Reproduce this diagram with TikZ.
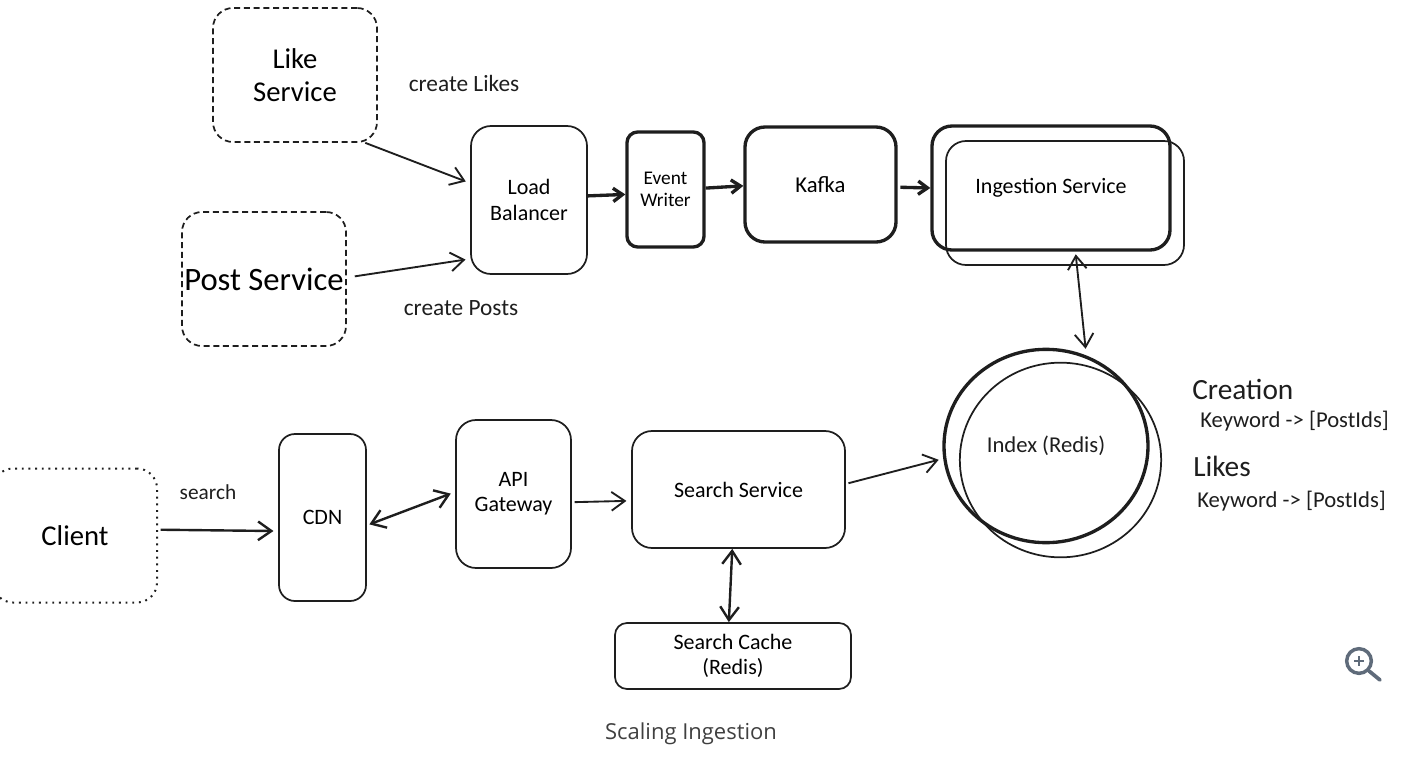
\documentclass[tikz,border=0pt]{standalone}
\usepackage{fontspec}
\setmainfont{Carlito}
\newfontfamily\captionfont{Open Sans}
\usetikzlibrary{arrows.meta,shapes.geometric}
\definecolor{inkc}{HTML}{1E1E1E}
\definecolor{iconc}{HTML}{5F6B7A}
\tikzset{
	thinbox/.style={draw=inkc,line width=1.3pt,rounded corners=15pt,inner sep=0pt,align=center,font=\fontsize{16.5}{19}\selectfont},
	thickbox/.style={thinbox,line width=2.5pt},
	dashbox/.style={thinbox,dash pattern=on 4.5pt off 2.8pt,minimum width=123pt,minimum height=100.5pt,font=\fontsize{21.5}{25}\selectfont},
	dotbox/.style={thinbox,line width=1.5pt,dash pattern=on 1.4pt off 3.6pt,minimum width=123pt,minimum height=100.5pt,font=\fontsize{21.5}{25}\selectfont},
	lbl/.style={text=inkc,inner sep=0pt,font=\fontsize{17.5}{21}\selectfont},
	head/.style={lbl,anchor=west,font=\fontsize{22}{26}\selectfont},
	conn/.style={draw=inkc,line width=1.4pt,shorten <=2pt,shorten >=3.5pt},
	thickconn/.style={conn,line width=2.5pt,shorten <=0pt,shorten >=0pt,>={Straight Barb[length=7pt,width=10pt]}}
}
\begin{document}
\begin{tikzpicture}[x=.75pt,y=-.75pt,>={Straight Barb[length=10pt,width=14pt]}]
	\useasboundingbox (0,0) rectangle (1422,760);

	% sources
	\node[dashbox] (like) at (295,75) {Like\\Service};
	\node[dashbox,font=\fontsize{24.5}{29}\selectfont] (post) at (264,279) {Post Service};
	\node[dotbox] (client) at (75,535.5) {Client};

	% ingestion row
	\node[thinbox,minimum width=87pt,minimum height=111pt] (lb) at (529,200) {Load\\Balancer};
	\node[thickbox,rounded corners=8pt,minimum width=57.75pt,minimum height=86.25pt,font=\fontsize{14.5}{17}\selectfont] (writer) at (665.5,189.5) {Event\\Writer};
	\node[thickbox,minimum width=113.25pt,minimum height=86.25pt,font=\fontsize{17}{20}\selectfont] (kafka) at (820.5,184.5) {Kafka};
	\node[thinbox,minimum width=178.5pt,minimum height=93pt] (ingestback) at (1065,203) {};
	\node[thickbox,minimum width=178.5pt,minimum height=93pt] (ingest) at (1051,188) {Ingestion Service};

	% search row
	\node[thinbox,rounded corners=12pt,minimum width=65.25pt,minimum height=125.25pt] (cdn) at (322.5,517.5) {CDN};
	\node[thinbox,minimum width=86.25pt,minimum height=111pt] (api) at (513.5,494) {API\\Gateway};
	\node[thinbox,minimum width=159.75pt,minimum height=87.75pt] (search) at (738.5,489.5) {Search Service};
	\node[thinbox,rounded corners=9pt,minimum width=177pt,minimum height=49.5pt] (cache) at (733,656) {Search Cache\\(Redis)};
	\node[draw=inkc,line width=1.3pt,ellipse,inner sep=0pt,minimum width=151pt,minimum height=146pt] (indexback) at (1060.5,460) {};
	\node[draw=inkc,line width=2.5pt,ellipse,inner sep=0pt,minimum width=153pt,minimum height=145pt,text=inkc,font=\fontsize{17}{20}\selectfont] (index) at (1046,446) {Index (Redis)};

	% texts
	\node[lbl] (likes) at (464,83) {create Likes};
	\node[lbl] (posts) at (461,308) {create Posts};
	\node[lbl,font=\fontsize{16}{19}\selectfont] (searchtxt) at (208,492) {search};
	\node[head] (creation) at (1192,389) {Creation};
	\node[head] (liketxt) at (1193,466) {Likes};
	\node[lbl,anchor=west,font=\fontsize{17}{20}\selectfont] (keya) at (1200,421) {Keyword -> [PostIds]};
	\node[lbl,anchor=west,font=\fontsize{17}{20}\selectfont] (keyb) at (1197,501) {Keyword -> [PostIds]};
	\node[inner sep=0pt,text=inkc!85,font=\captionfont\fontsize{16.5}{20}\selectfont] (cap) at (691,734) {Scaling Ingestion};

	\draw[conn,->,shorten <=0pt] (like.-44) -- (lb.164);
	\draw[conn,->,shorten <=6pt] (post.1) -- (lb.225.5);
	\draw[thickconn,->] (lb.4) -- (writer.187);
	\draw[thickconn,->] (writer.2) -- (kafka.181);
	\draw[thickconn,->,shorten <=2pt] (kafka.-2) -- (ingest.180);
	\draw[conn,<->,shorten >=5pt] (ingest.-69) -- (index.66);
	\draw[conn,->,line width=1.8pt] (client.4.5) -- (cdn.197);
	\draw[conn,<->,line width=1.8pt] (cdn.-10) -- (api.178);
	\draw[conn,->] (api.-8) -- (search.186.7);
	\draw[conn,->] (search.3) -- (index.187.7);
	\draw[conn,<->,line width=1.8pt,shorten <=0pt,shorten >=0pt] (search.264.6) -- (cache.97);

	% zoom icon
	\node[draw=iconc,line width=2.6pt,circle,inner sep=0pt,minimum size=18.5pt] (icon) at (1359,661) {};
	\coordinate (iconend) at (1380,680);
	\draw[iconc,line width=2.8pt,line cap=round] (icon.-45) -- (iconend);
	\draw[iconc,line width=1.3pt] (icon.center) +(-5,0) -- +(5,0) (icon.center) +(0,-5) -- +(0,5);
\end{tikzpicture}
\end{document}
